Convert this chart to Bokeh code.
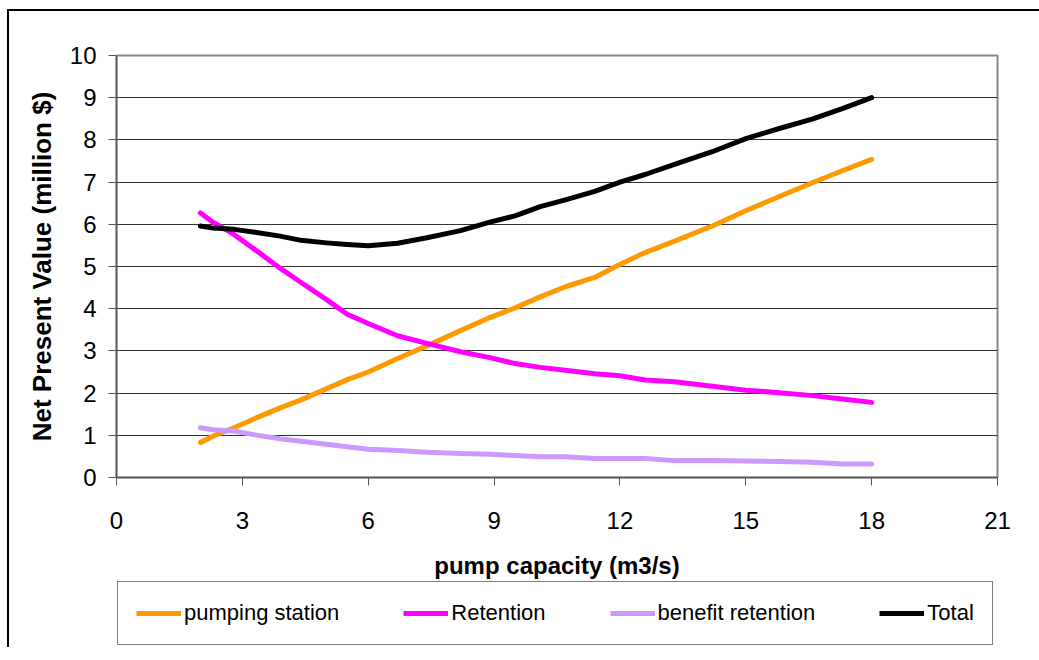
from bokeh.plotting import figure
from bokeh.models import Range1d, FixedTicker, Legend, LegendItem, ColumnDataSource
from bokeh.layouts import column
from bokeh.embed import file_html
from bokeh.resources import INLINE

# ---- data ----
pump_capacity = [2.0, 2.3, 2.8, 3.3, 3.9, 4.4, 5.0, 5.5, 6.0, 6.7, 7.4, 8.2, 8.9,
                 9.5, 10.1, 10.7, 11.4, 12.0, 12.6, 13.3, 14.2, 15.0, 15.8, 16.6, 17.3, 18.0]
pumping_station = [0.83, 0.98, 1.18, 1.40, 1.65, 1.84, 2.10, 2.32, 2.50, 2.82, 3.12, 3.48, 3.79,
                   4.02, 4.28, 4.52, 4.74, 5.05, 5.33, 5.60, 5.96, 6.32, 6.66, 6.99, 7.27, 7.54]
retention = [6.27, 6.05, 5.76, 5.40, 4.96, 4.62, 4.22, 3.87, 3.65, 3.36, 3.18, 2.98, 2.84,
             2.70, 2.61, 2.54, 2.46, 2.41, 2.31, 2.27, 2.16, 2.07, 2.01, 1.94, 1.86, 1.78]
benefit_retention = [1.18, 1.13, 1.10, 1.01, 0.92, 0.86, 0.79, 0.73, 0.67, 0.64, 0.60, 0.57, 0.55,
                     0.52, 0.49, 0.49, 0.45, 0.45, 0.45, 0.40, 0.40, 0.39, 0.38, 0.36, 0.32, 0.32]
total = [5.96, 5.91, 5.88, 5.81, 5.72, 5.62, 5.56, 5.52, 5.49, 5.55, 5.68, 5.85, 6.05,
         6.20, 6.42, 6.58, 6.78, 7.00, 7.18, 7.42, 7.72, 8.03, 8.27, 8.50, 8.74, 9.00]

series_names = ["pumping station", "Retention", "benefit retention", "Total"]
series_colors = ["#FF9900", "#FF00FF", "#CC99FF", "#000000"]
series_cols = ["ps", "ret", "ben", "tot"]
x_ticks = [0, 3, 6, 9, 12, 15, 18, 21]
y_ticks = [0, 1, 2, 3, 4, 5, 6, 7, 8, 9, 10]

FONT = "Liberation Sans"
LINE_W = 5

src = ColumnDataSource(dict(x=pump_capacity, ps=pumping_station, ret=retention,
                            ben=benefit_retention, tot=total))

# ---------------- main chart ----------------
p = figure(frame_width=881, frame_height=422, x_range=Range1d(0, 21), y_range=Range1d(0, 10),
           output_backend="svg", toolbar_location=None,
           min_border_left=107, min_border_right=50, min_border_top=44, min_border_bottom=0)

for col, color in zip(series_cols, series_colors):
    p.line("x", col, source=src, line_color=color, line_width=LINE_W,
           line_join="round", line_cap="round")

p.xaxis.ticker = FixedTicker(ticks=x_ticks)
p.yaxis.ticker = FixedTicker(ticks=y_ticks)
for ax in (p.xaxis[0], p.yaxis[0]):
    ax.minor_tick_line_color = None
    ax.major_tick_in = 0
    ax.major_tick_out = 8
    ax.major_tick_line_color = "#555555"
    ax.axis_line_color = "#555555"
    ax.axis_line_width = 1.5
    ax.major_label_text_font = FONT
    ax.major_label_text_font_size = "24px"
    ax.major_label_text_color = "#000000"
    ax.axis_label_text_font = FONT
    ax.axis_label_text_font_style = "bold"
    ax.axis_label_text_color = "#000000"

p.xaxis.axis_label = "pump capacity (m3/s)"
p.xaxis.axis_label_text_font_size = "24px"
p.xaxis.major_label_standoff = 26
p.xaxis.axis_label_standoff = 20
p.yaxis.axis_label = "Net Present Value (million $)"
p.yaxis.axis_label_text_font_size = "26px"
p.yaxis.major_label_standoff = 12
p.yaxis.axis_label_standoff = 10

p.xgrid.grid_line_color = None
p.ygrid.grid_line_color = "#333333"
p.ygrid.grid_line_width = 1.2
p.outline_line_color = "#888888"
p.outline_line_width = 2
p.background_fill_color = "white"
p.border_fill_color = "white"

# ---------------- legend strip (same series, drawn outside its own view) ----------------
pl = figure(width=1038, height=66, x_range=Range1d(-1, 0), y_range=Range1d(-1, 0),
            output_backend="svg", toolbar_location=None,
            min_border_left=0, min_border_right=0, min_border_top=0, min_border_bottom=0)
pl.xaxis.visible = False
pl.yaxis.visible = False
pl.xgrid.grid_line_color = None
pl.ygrid.grid_line_color = None
pl.outline_line_color = None
pl.border_fill_color = "white"
pl.background_fill_color = "white"

leg_renderers = []
for col, color in zip(series_cols, series_colors):
    r = pl.line("x", col, source=src, line_color=color, line_width=LINE_W)
    leg_renderers.append(r)

legend = Legend(items=[LegendItem(label=n, renderers=[r]) for n, r in zip(series_names, leg_renderers)],
                orientation="horizontal", location=(1, 2), margin=0,
                label_text_font=FONT, label_text_font_size="22px", label_text_color="#000000",
                glyph_width=45, label_standoff=3, spacing=64, padding=18,
                border_line_color="#000000", border_line_width=1.2,
                background_fill_alpha=1.0)
pl.add_layout(legend, "center")

layout = column(p, pl, spacing=0,
                styles={"border-top": "2px solid #000000", "border-left": "2px solid #000000",
                        "border-right": "0px none", "border-bottom": "0px none",
                        "overflow": "visible", "margin-left": "7px", "margin-top": "9px"})

open("out.html", "w").write(file_html(layout, INLINE))
